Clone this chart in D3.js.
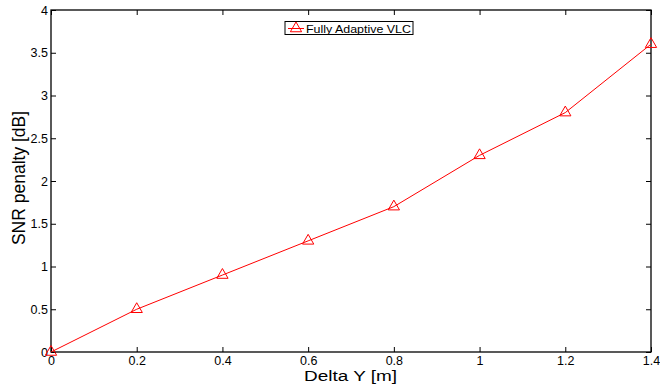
<!DOCTYPE html>
<html><head><meta charset="utf-8">
<script src="https://cdn.jsdelivr.net/npm/d3@7"></script>
<style>body{margin:0;background:#fff}svg{display:block}text{font-family:"Liberation Sans",Arial,sans-serif;fill:#000}</style>
</head><body><svg id="c" width="660" height="386"></svg>
<script>
const xValues = [0, 0.2, 0.4, 0.6, 0.8, 1.0, 1.2, 1.4];
const snrPenalty = [0, 0.5, 0.9, 1.3, 1.7, 2.3, 2.8, 3.6];
const xTicks = [0, 0.2, 0.4, 0.6, 0.8, 1, 1.2, 1.4];
const yTicks = [0, 0.5, 1, 1.5, 2, 2.5, 3, 3.5, 4];
const seriesName = "Fully Adaptive VLC";
const xLabel = "Delta Y [m]";
const yLabel = "SNR penalty [dB]";

const svg = d3.select("#c");
const L = 51, R = 651, T = 10, B = 352;
const x = d3.scaleLinear().domain([0, 1.4]).range([L, R]);
const y = d3.scaleLinear().domain([0, 4]).range([B, T]);
const fmt = d => String(d);

// axes
const gx = svg.append("g").attr("transform", `translate(0,${B})`)
  .call(d3.axisBottom(x).tickValues(xTicks).tickFormat(fmt).tickSizeInner(-5).tickSizeOuter(0).tickPadding(4));
const gxt = svg.append("g").attr("transform", `translate(0,${T})`)
  .call(d3.axisTop(x).tickValues(xTicks).tickFormat("").tickSizeInner(-5).tickSizeOuter(0));
const gy = svg.append("g").attr("transform", `translate(${L},0)`)
  .call(d3.axisLeft(y).tickValues(yTicks).tickFormat(fmt).tickSizeInner(-5).tickSizeOuter(0).tickPadding(3));
const gyr = svg.append("g").attr("transform", `translate(${R},0)`)
  .call(d3.axisRight(y).tickValues(yTicks).tickFormat("").tickSizeInner(-5).tickSizeOuter(0));
[gx, gxt, gy, gyr].forEach(g => {
  g.select(".domain").remove();
  g.selectAll("line").attr("stroke", "#000").attr("stroke-width", 1);
  g.selectAll("text").attr("font-size", 12.5).attr("font-family", '"Liberation Sans",Arial,sans-serif').attr("fill", "#222");
});
svg.append("rect").attr("x", L).attr("y", T).attr("width", R - L).attr("height", B - T)
  .attr("fill", "none").attr("stroke", "#000").attr("stroke-width", 1.3);

// line
const pts = xValues.map((v, i) => [v, snrPenalty[i]]);
svg.append("path").datum(pts)
  .attr("d", d3.line().x(d => x(d[0])).y(d => y(d[1])))
  .attr("fill", "none").attr("stroke", "#ff0000").attr("stroke-width", 1);
const tri = d3.symbol().type(d3.symbolTriangle).size(55);
svg.selectAll(".m").data(pts).enter().append("path")
  .attr("transform", d => `translate(${x(d[0])},${y(d[1])})`)
  .attr("d", tri).attr("fill", "none").attr("stroke", "#ff0000").attr("stroke-width", 1);

// labels
svg.append("text").attr("x", 350.5).attr("y", 381).attr("text-anchor", "middle")
  .attr("font-size", 15.5).attr("textLength", 93).attr("lengthAdjust", "spacingAndGlyphs").text(xLabel);
svg.append("text").attr("transform", `translate(24.5,178) rotate(-90)`)
  .attr("text-anchor", "middle").attr("font-size", 17.5).text(yLabel);

// legend
const lg = svg.append("g");
lg.append("rect").attr("x", 285).attr("y", 21.5).attr("width", 128).attr("height", 13)
  .attr("fill", "#fff").attr("stroke", "#000").attr("stroke-width", 1);
lg.append("line").attr("x1", 288).attr("x2", 304).attr("y1", 28.5).attr("y2", 28.5)
  .attr("stroke", "#ff0000").attr("stroke-width", 1);
lg.append("path").attr("transform", "translate(296,28.5)").attr("d", tri)
  .attr("fill", "none").attr("stroke", "#ff0000");
lg.append("text").attr("x", 306).attr("y", 32.5).attr("font-size", 11.5)
  .attr("textLength", 105).attr("lengthAdjust", "spacingAndGlyphs").text(seriesName);
</script></body></html>
